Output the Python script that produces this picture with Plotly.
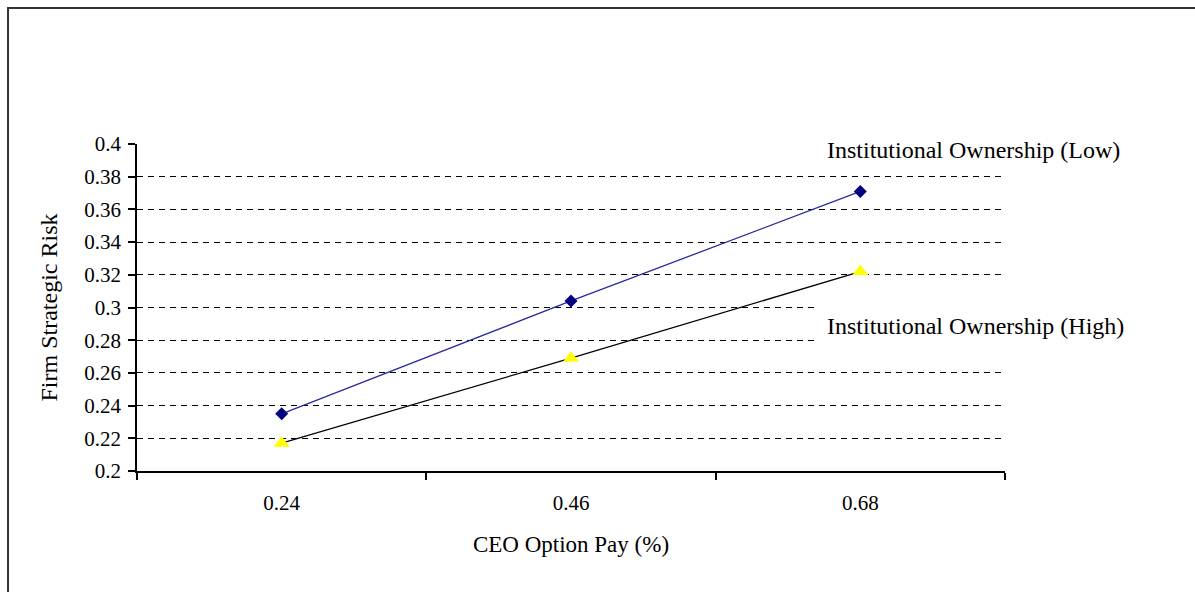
import plotly.graph_objects as go

# CEO option pay levels (category labels on the x axis)
option_pay = ["0.24", "0.46", "0.68"]

# Firm strategic risk by institutional ownership level
risk_low_ownership = [0.235, 0.304, 0.371]
risk_high_ownership = [0.217, 0.269, 0.322]

label_low = "Institutional Ownership (Low)"
label_high = "Institutional Ownership (High)"

serif = "Liberation Serif, Times New Roman, serif"

fig = go.Figure()

fig.add_trace(go.Scatter(
    x=option_pay, y=risk_low_ownership, mode="lines+markers", name=label_low,
    line=dict(color="#2a2a9e", width=1.3),
    marker=dict(symbol="diamond", size=10, color="#000080"),
))
fig.add_trace(go.Scatter(
    x=option_pay, y=risk_high_ownership, mode="lines+markers", name=label_high,
    line=dict(color="#000000", width=1.3),
    marker=dict(symbol="triangle-up", size=14, color="#ffff00"),
))

fig.update_layout(
    width=1195, height=592,
    margin=dict(l=137, r=190, t=144, b=121),
    paper_bgcolor="white", plot_bgcolor="white",
    showlegend=False,
    font=dict(family=serif, size=21, color="black"),
    xaxis=dict(
        type="category",
        range=[-0.5, 2.5],
        tickson="boundaries",
        ticks="outside", ticklen=7, tickcolor="black", tickwidth=1.5,
        showline=True, linecolor="black", linewidth=1.5,
        showgrid=False,
        ticklabelstandoff=12,
        tickfont=dict(family=serif, size=21),
        title=dict(text="CEO Option Pay (%)", standoff=22,
                   font=dict(family=serif, size=23)),
    ),
    yaxis=dict(
        range=[0.2, 0.4], dtick=0.02,
        ticks="outside", ticklen=7, tickcolor="black", tickwidth=1.5,
        showline=True, linecolor="black", linewidth=1.5,
        showgrid=True, gridcolor="black", gridwidth=1, griddash="6px,5px",
        zeroline=False,
        ticklabelstandoff=3,
        tickfont=dict(family=serif, size=21),
        title=dict(text="Firm Strategic Risk", standoff=20,
                   font=dict(family=serif, size=24)),
    ),
)

# Series labels placed at the right end of the lines
for text, ypos in [(label_low, 0.982), (label_high, 0.443)]:
    fig.add_annotation(
        text=text, xref="paper", yref="paper", x=0.783, y=ypos,
        xanchor="left", yanchor="middle", showarrow=False,
        bgcolor="white", borderpad=9,
        font=dict(family=serif, size=24, color="black"),
    )

# Frame around the figure
fig.add_shape(
    type="rect", xref="paper", yref="paper",
    x0=-0.1486, x1=1.4, y0=-0.6, y1=1.416,
    line=dict(color="#333333", width=2), fillcolor="rgba(0,0,0,0)",
    layer="below",
)

fig.write_html("out.html")
